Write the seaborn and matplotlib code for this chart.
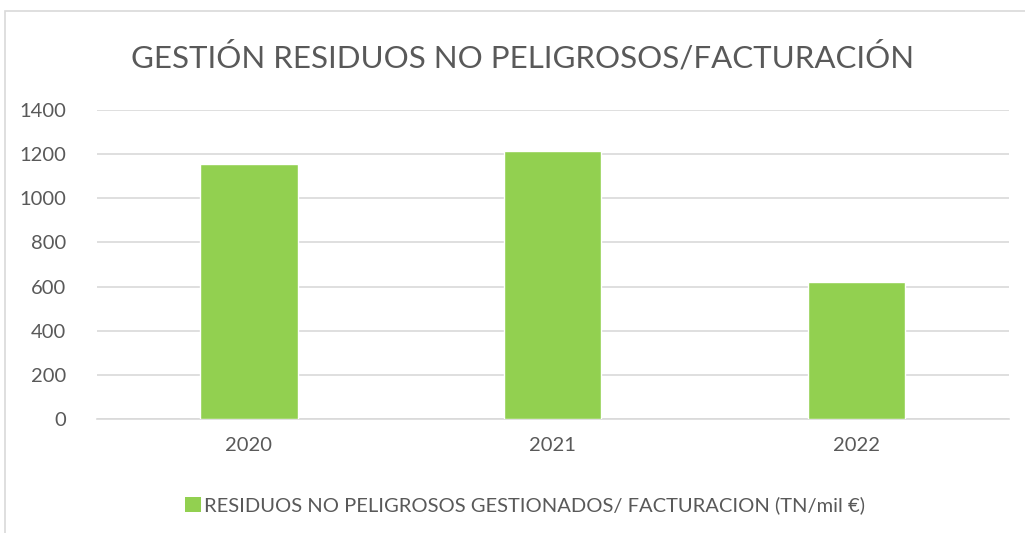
import matplotlib
matplotlib.use('Agg')
import matplotlib.pyplot as plt
import seaborn as sns
import pandas as pd
from matplotlib.patches import Patch, Rectangle

years = ['2020', '2021', '2022']
valores = [1155, 1214, 621]
serie = 'RESIDUOS NO PELIGROSOS GESTIONADOS/ FACTURACION (TN/mil €)'
titulo = 'GESTIÓN RESIDUOS NO PELIGROSOS/FACTURACIÓN'
yticks = [0, 200, 400, 600, 800, 1000, 1200, 1400]

df = pd.DataFrame({'year': years, 'valor': valores})

sns.set_theme(style='white')
plt.rcParams['font.family'] = ['Lato', 'DejaVu Sans']

grey = '#595959'
green = '#92d050'

fig = plt.figure(figsize=(10.25, 5.33), dpi=100)
ax = fig.add_axes([0.0946, 0.2139, 0.8895, 0.5797])

sns.barplot(data=df, x='year', y='valor', color=green, width=0.32,
            saturation=1, ax=ax, zorder=3)

ax.set_xlim(-0.5, 2.5)
ax.set_ylim(0, 1400)
ax.set_yticks(yticks)
ax.yaxis.grid(True, color='#d9d9d9', linewidth=1.2, zorder=0)
for s in ['top', 'right', 'left']:
    ax.spines[s].set_visible(False)
ax.spines['bottom'].set_color('#d9d9d9')
ax.spines['bottom'].set_linewidth(1.2)
ax.set_xlabel('')
ax.set_ylabel('')
ax.tick_params(axis='both', length=0, labelsize=14.5, labelcolor=grey)
ax.tick_params(axis='x', pad=13)
ax.tick_params(axis='y', pad=22)

fig.text(0.51, 0.893, titulo, ha='center', va='center', fontsize=22.5,
         color=grey)

handle = [Patch(facecolor=green, edgecolor='none')]
fig.legend(handle, [serie], loc='center', bbox_to_anchor=(0.512, 0.052),
           frameon=False, fontsize=14.5, labelcolor=grey,
           handlelength=0.8, handleheight=0.8, handletextpad=0.15)

# chart frame
fig.patches.append(Rectangle((0.0045, -0.1), 1.2, 1.0795,
                             transform=fig.transFigure, fill=False,
                             edgecolor='#d9d9d9', linewidth=1.2))

fig.savefig('out.png', dpi=100)
